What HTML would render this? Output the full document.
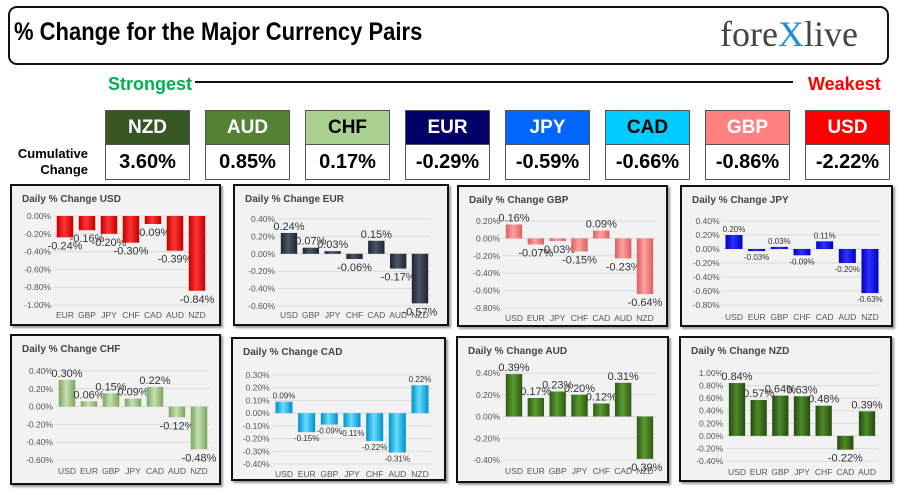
<!DOCTYPE html>
<html><head><meta charset="utf-8">
<style>
body{margin:0;width:900px;height:492px;background:#fff;position:relative;overflow:hidden;font-family:"Liberation Sans",sans-serif}
.abs{position:absolute}
.cond{font-family:"Liberation Sans Narrow","Liberation Sans",sans-serif;font-weight:bold}
.hb{position:absolute;width:85px;border:1px solid #555;box-sizing:border-box}
.hb .h{height:33px;line-height:33px;text-align:center;font-size:19px;font-weight:bold;font-family:"Liberation Sans Narrow","Liberation Sans",sans-serif}
.hb .v{height:34px;line-height:34px;text-align:center;font-size:20px;font-weight:bold;background:#fff;border-top:1px solid #555;font-family:"Liberation Sans Narrow","Liberation Sans",sans-serif}
.panel{position:absolute;background:#f2f2f2;border:2px solid #111;box-sizing:border-box;box-shadow:2px 2px 2px #999}
</style></head><body>
<div class="abs" style="left:8px;top:6px;width:881px;height:59px;border:2px solid #111;border-radius:9px;box-sizing:border-box"></div>
<div class="abs cond" style="left:14px;top:18px;font-size:25px;color:#000;transform:scaleX(0.88);transform-origin:left">% Change for the Major Currency Pairs</div>
<div class="abs" style="left:720px;top:13px;font-family:'Liberation Serif',serif;font-size:36px;color:#444">fore<span style="color:#1a8fd6">X</span>live</div>
<div class="abs cond" style="left:108px;top:74px;font-size:18px;color:#00b050">Strongest</div>
<div class="abs" style="left:195px;top:81px;width:598px;height:2px;background:#111"></div>
<div class="abs cond" style="left:808px;top:74px;font-size:18px;color:#ff0000">Weakest</div>
<div class="abs cond" style="left:14px;top:146px;width:74px;text-align:right;font-size:13px;line-height:16px">Cumulative<br>Change</div>
<div id="boxes"></div>
<div id="panels"></div>
<script>
const hdrCur=["NZD","AUD","CHF","EUR","JPY","CAD","GBP","USD"];
const hdrVal=["3.60%","0.85%","0.17%","-0.29%","-0.59%","-0.66%","-0.86%","-2.22%"];
const hdrBg=["#375623","#548235","#a9d08e","#000066","#0066ff","#00ccff","#ff8080","#ff0000"];
const hdrFg=["#fff","#fff","#000","#fff","#fff","#000","#fff","#fff"];
const bx=document.getElementById('boxes');
hdrCur.forEach((c,i)=>{
 const d=document.createElement('div');d.className='hb';
 
 
 d.style.left=(105+i*100)+'px';d.style.top='110px';
 d.innerHTML='<div class="h" style="background:'+hdrBg[i]+';color:'+hdrFg[i]+'">'+c+'</div><div class="v">'+hdrVal[i]+'</div>';
 bx.appendChild(d);
});

const usdCats=["EUR","GBP","JPY","CHF","CAD","AUD","NZD"];
const usdVals=[-0.24,-0.16,-0.20,-0.30,-0.09,-0.39,-0.84];
const eurCats=["USD","GBP","JPY","CHF","CAD","AUD","NZD"];
const eurVals=[0.24,0.07,0.03,-0.06,0.15,-0.17,-0.57];
const gbpCats=["USD","EUR","JPY","CHF","CAD","AUD","NZD"];
const gbpVals=[0.16,-0.07,-0.03,-0.15,0.09,-0.23,-0.64];
const jpyCats=["USD","EUR","GBP","CHF","CAD","AUD","NZD"];
const jpyVals=[0.20,-0.03,0.03,-0.09,0.11,-0.20,-0.63];
const chfCats=["USD","EUR","GBP","JPY","CAD","AUD","NZD"];
const chfVals=[0.30,0.06,0.15,0.09,0.22,-0.12,-0.48];
const cadCats=["USD","EUR","GBP","JPY","CHF","AUD","NZD"];
const cadVals=[0.09,-0.15,-0.09,-0.11,-0.22,-0.31,0.22];
const audCats=["USD","EUR","GBP","JPY","CHF","CAD","NZD"];
const audVals=[0.39,0.17,0.23,0.20,0.12,0.31,-0.39];
const nzdCats=["USD","EUR","GBP","JPY","CHF","CAD","AUD"];
const nzdVals=[0.84,0.57,0.64,0.63,0.48,-0.22,0.39];
const usdTicks=[0,-0.2,-0.4,-0.6,-0.8,-1.0];
const eurTicks=[0.4,0.2,0,-0.2,-0.4,-0.6];
const gbpTicks=[0.2,0,-0.2,-0.4,-0.6,-0.8];
const jpyTicks=[0.4,0.2,0,-0.2,-0.4,-0.6,-0.8];
const chfTicks=[0.4,0.2,0,-0.2,-0.4,-0.6];
const cadTicks=[0.3,0.2,0.1,0,-0.1,-0.2,-0.3,-0.4];
const audTicks=[0.4,0.2,0,-0.2,-0.4];
const nzdTicks=[1.0,0.8,0.6,0.4,0.2,0,-0.2,-0.4];

const panels=[
 {id:'usd',x:10,y:184,w:211,h:142,cats:usdCats,vals:usdVals,ticks:usdTicks,py0:30,py1:119,cx0:53,cx1:185,ly:132,c1:'#ff3333',c2:'#c00000',fs:11},
 {id:'eur',x:233,y:184,w:216,h:142,cats:eurCats,vals:eurVals,ticks:eurTicks,py0:33,py1:120,cx0:54,cx1:185,ly:132,c1:'#4a5566',c2:'#1e2530',fs:11},
 {id:'gbp',x:457,y:185,w:211,h:142,cats:gbpCats,vals:gbpVals,ticks:gbpTicks,py0:34,py1:121,cx0:55,cx1:186,ly:134,c1:'#ffa0a0',c2:'#d86060',fs:11},
 {id:'jpy',x:680,y:185,w:213,h:142,cats:jpyCats,vals:jpyVals,ticks:jpyTicks,py0:34,py1:118,cx0:52,cx1:188,ly:133,c1:'#3030ff',c2:'#0000c0',fs:8},
 {id:'chf',x:10,y:334,w:211,h:151,cats:chfCats,vals:chfVals,ticks:chfTicks,py0:35,py1:124,cx0:55,cx1:187,ly:138,c1:'#c6e0b4',c2:'#7aa55a',fs:11},
 {id:'cad',x:231,y:337,w:215,h:144,cats:cadCats,vals:cadVals,ticks:cadTicks,py0:36,py1:125,cx0:51,cx1:187,ly:138,c1:'#66ddff',c2:'#0090c8',fs:8},
 {id:'aud',x:456,y:336,w:213,h:147,cats:audCats,vals:audVals,ticks:audTicks,py0:35,py1:122,cx0:56,cx1:187,ly:136,c1:'#5a9a2e',c2:'#2e5a14',fs:11},
 {id:'nzd',x:679,y:336,w:213,h:146,cats:nzdCats,vals:nzdVals,ticks:nzdTicks,py0:35,py1:123,cx0:56,cx1:186,ly:137,c1:'#4e8a28',c2:'#244a10',fs:11}
];
const NS='http://www.w3.org/2000/svg';
const host=document.getElementById('panels');
function mk(t,a){const e=document.createElementNS(NS,t);for(const k in a)e.setAttribute(k,a[k]);return e;}
panels.forEach(p=>{
 const div=document.createElement('div');div.className='panel';
 
 
 div.style.left=p.x+'px';div.style.top=p.y+'px';div.style.width=p.w+'px';div.style.height=p.h+'px';
 host.appendChild(div);
 const svg=mk('svg',{width:p.w-4,height:p.h-4});svg.style.position='absolute';svg.style.left='0';svg.style.top='0';
 div.appendChild(svg);
 const defs=mk('defs',{});const g=mk('linearGradient',{id:'g'+p.id,x1:0,x2:1,y1:0,y2:0});
 g.appendChild(mk('stop',{offset:'0','stop-color':p.c2}));g.appendChild(mk('stop',{offset:'0.45','stop-color':p.c1}));g.appendChild(mk('stop',{offset:'1','stop-color':p.c2}));
 defs.appendChild(g);svg.appendChild(defs);
 const tmax=p.ticks[0],tmin=p.ticks[p.ticks.length-1];
 const Y=v=>p.py0+(tmax-v)/(tmax-tmin)*(p.py1-p.py0);
 const step=(p.cx1-p.cx0)/(p.cats.length-1);
 const X=i=>p.cx0+i*step;
 const t=mk('text',{x:10,y:16,'font-size':10,'font-weight':'bold',fill:'#444'});t.textContent='Daily % Change '+p.id.toUpperCase();
 svg.appendChild(t);
 p.ticks.forEach(v=>{
  const y=Y(v);
  const ln=mk('line',{x1:X(0)-step/2,x2:X(p.cats.length-1)+step/2,y1:y,y2:y,stroke:'#d9d9d9','stroke-width':1});
  svg.appendChild(ln);
  const tx=mk('text',{x:X(0)-step/2-3,y:y+3,'font-size':8.5,'text-anchor':'end',fill:'#555'});tx.textContent=v.toFixed(2)+'%';
  svg.appendChild(tx);
 });
 const bw=step*0.75;
 p.vals.forEach((v,i)=>{
  const y0=Y(0),y1=Y(v);
  const r=mk('rect',{x:X(i)-bw/2,y:Math.min(y0,y1),width:bw,height:Math.max(1,Math.abs(y1-y0)),fill:'url(#g'+p.id+')'});
  svg.appendChild(r);
  const lb=mk('text',{x:X(i),y:v>=0?y1-3:y1+p.fs+1,'font-size':p.fs,'text-anchor':'middle',fill:'#333'});lb.textContent=v.toFixed(2)+'%';
  svg.appendChild(lb);
  const cl=mk('text',{x:X(i),y:p.ly,'font-size':8.5,'text-anchor':'middle',fill:'#555'});cl.textContent=p.cats[i];
  svg.appendChild(cl);
 });
});
</script>
</body></html>
